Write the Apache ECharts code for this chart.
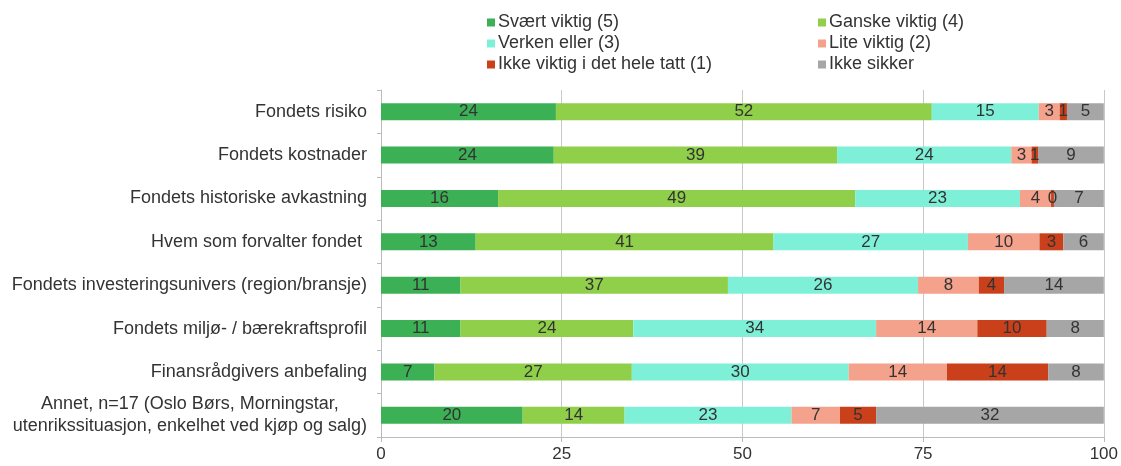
<!DOCTYPE html>
<html>
<head>
<meta charset="utf-8">
<script src="https://cdn.jsdelivr.net/npm/echarts@6/dist/echarts.min.js"></script>
<style>
  html, body { margin: 0; padding: 0; background: #fff; }
  #chart { width: 1121px; height: 466px; }
</style>
</head>
<body>
<div id="chart"></div>
<script>
// kategorier (ovenfra og ned)
var categories = [
  'Fondets risiko',
  'Fondets kostnader',
  'Fondets historiske avkastning',
  'Hvem som forvalter fondet ',
  'Fondets investeringsunivers (region/bransje)',
  'Fondets miljø- / bærekraftsprofil',
  'Finansrådgivers anbefaling',
  'Annet, n=17 (Oslo Børs, Morningstar,\nutenrikssituasjon, enkelhet ved kjøp og salg)'
];
var seriesNames = ['Svært viktig (5)', 'Ganske viktig (4)', 'Verken eller (3)',
  'Lite viktig (2)', 'Ikke viktig i det hele tatt (1)', 'Ikke sikker'];
// prosentandeler, lest av bildet
var svaertViktig = [24.2, 23.9, 16.2, 13.1, 11.0, 11.0, 7.4, 19.6];
var ganskeViktig = [52.0, 39.2, 49.4, 41.2, 37.0, 23.9, 27.3, 14.1];
var verkenEller  = [14.8, 24.1, 22.8, 26.9, 26.3, 33.6, 30.0, 23.1];
var liteViktig   = [2.9, 2.8, 4.3, 9.9, 8.4, 14.0, 13.6, 6.7];
var ikkeViktig   = [1.0, 0.9, 0.4, 3.3, 3.5, 9.6, 14.0, 5.0];
var ikkeSikker   = [5.1, 9.1, 6.9, 5.6, 13.8, 7.9, 7.7, 31.5];
var xTicks = [0, 25, 50, 75, 100];

var colors = ['#3cb054', '#8fcf4a', '#7ff0d8', '#f4a28c', '#c9401b', '#a6a6a6'];
var allData = [svaertViktig, ganskeViktig, verkenEller, liteViktig, ikkeViktig, ikkeSikker];

var chart = echarts.init(document.getElementById('chart'));
var font = 'Liberation Sans, Arial, sans-serif';

var series = seriesNames.map(function (name, i) {
  return {
    name: name,
    type: 'bar',
    stack: 'total',
    barWidth: 17,
    itemStyle: { color: colors[i] },
    label: {
      show: true,
      position: 'inside',
      color: '#333',
      fontFamily: font,
      fontSize: 17,
      formatter: function (p) { return Math.round(p.value); }
    },
    data: allData[i]
  };
});

var legendText = { fontFamily: font, fontSize: 18, color: '#333', lineHeight: 21, padding: [0, 0, 0, -2] };

chart.setOption({
  animation: false,
  color: colors,
  legend: [
    {
      orient: 'vertical', left: 482, top: 7, itemGap: 0,
      itemWidth: 8, itemHeight: 8, icon: 'rect',
      textStyle: legendText,
      data: [seriesNames[0], seriesNames[2], seriesNames[4]]
    },
    {
      orient: 'vertical', left: 813, top: 7, itemGap: 0,
      itemWidth: 8, itemHeight: 8, icon: 'rect',
      textStyle: legendText,
      data: [seriesNames[1], seriesNames[3], seriesNames[5]]
    }
  ],
  grid: { left: 381, right: 16, top: 90, bottom: 29, containLabel: false },
  xAxis: {
    type: 'value', min: 0, max: 100, interval: 25,
    axisLine: { show: true, lineStyle: { color: '#bbb' } },
    axisTick: { show: true, length: 5, lineStyle: { color: '#bbb' } },
    axisLabel: {
      fontFamily: font, fontSize: 17, color: '#333', margin: 9,
      formatter: function (v) { return xTicks.indexOf(v) >= 0 ? v : ''; }
    },
    splitLine: { show: true, lineStyle: { color: '#c8c8c8' } }
  },
  yAxis: {
    type: 'category', inverse: true, data: categories,
    axisLine: { show: true, lineStyle: { color: '#bbb' } },
    axisTick: { show: true, length: 4, lineStyle: { color: '#bbb' } },
    axisLabel: {
      fontFamily: font, fontSize: 18, color: '#333', margin: 14,
      formatter: function (v) {
        return v.split('\n').map(function (s) { return '{c|' + s + '}'; }).join('\n');
      },
      rich: { c: { align: 'center', fontFamily: font, fontSize: 18, color: '#333', lineHeight: 22 } }
    }
  },
  series: series
});
</script>
</body>
</html>
